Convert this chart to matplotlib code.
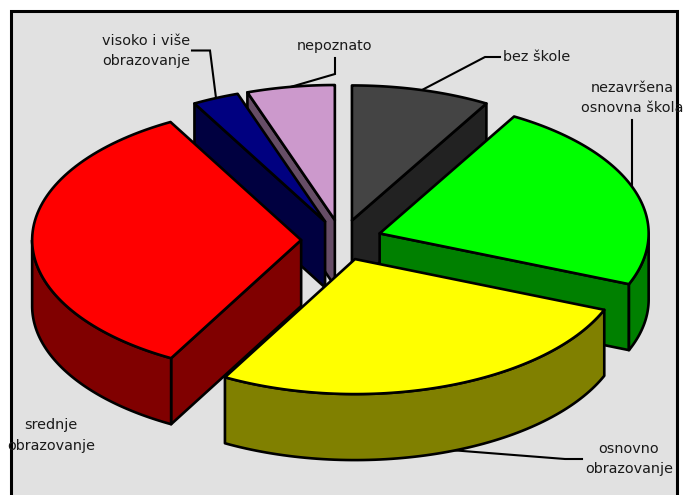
import numpy as np
import matplotlib
matplotlib.use("Agg")
import matplotlib.pyplot as plt
from matplotlib.patches import Polygon, Rectangle

labels = ["bez škole", "nezavršena\nosnovna škola", "osnovno\nobrazovanje",
          "srednje\nobrazovanje", "visoko i više\nobrazovanje", "nepoznato"]
values = [8.33, 22.8, 26.9, 33.9, 2.8, 5.27]
top_colors = ["#444444", "#00ff00", "#ffff00", "#ff0000", "#000080", "#cc99cc"]
side_colors = ["#222222", "#008000", "#808000", "#800000", "#000040", "#664d66"]

# pie geometry in pixels of the 684x495 picture
cx, cy = 341.5, 240
rx, ry = 269, 135
depth = 66
explode = 0.15
lw = 1.9


def point(angle, r=1.0):
    # angle in degrees, clockwise from 12 o'clock
    a = np.radians(angle)
    return np.array([r * rx * np.sin(a), -r * ry * np.cos(a)])


def arc(a0, a1):
    angs = np.linspace(a0, a1, 80)
    return np.array([point(a) for a in angs])


fig = plt.figure(figsize=(6.84, 4.95), dpi=100)
ax = fig.add_axes([0, 0, 1, 1])
ax.set_xlim(0, 684)
ax.set_ylim(495, 0)
ax.axis("off")

ax.add_patch(Rectangle((11, 11), 666, 500, fc="#e1e1e1", ec="black", lw=2.2, zorder=0))

# leader lines
leaders = [
    ([422, 485, 500], [90, 57, 57]),
    ([632, 632], [120, 190]),
    ([450, 565, 582], [450, 459, 459]),
    ([216, 210, 192], [98, 50.5, 50.5]),
    ([287, 335, 335], [88, 74, 58]),
]
for lx, ly in leaders:
    ax.plot(lx, ly, color="black", lw=1.5, zorder=1, solid_joinstyle="miter")

edges = np.cumsum([0] + values) / sum(values) * 360
z_order = {0: 2, 5: 3, 4: 4, 1: 5, 3: 6, 2: 7}

for i in range(len(values)):
    a0, a1 = edges[i], edges[i + 1]
    mid = (a0 + a1) / 2
    apex = np.array([cx, cy]) + point(mid, explode)
    down = np.array([0, depth])
    z = z_order[i]
    p0 = apex + point(a0)
    p1 = apex + point(a1)

    # cut faces, only the ones turned to the viewer
    faces = []
    if 180 < a0 < 360:
        faces.append(p0)
    if 0 < a1 < 180:
        faces.append(p1)
    for p in faces:
        face = [apex, p, p + down, apex + down]
        ax.add_patch(Polygon(face, closed=True, fc=side_colors[i], ec="black",
                             lw=lw, joinstyle="round", zorder=z))

    # outer wall on the front half of the rim
    w0, w1 = max(a0, 90), min(a1, 270)
    if w1 > w0:
        rim = apex + arc(w0, w1)
        wall = np.vstack([rim, (rim + down)[::-1]])
        ax.add_patch(Polygon(wall, closed=True, fc=side_colors[i], ec="black",
                             lw=lw, joinstyle="round", zorder=z))

    # top
    top = np.vstack([apex, apex + arc(a0, a1)])
    ax.add_patch(Polygon(top, closed=True, fc=top_colors[i], ec="black",
                         lw=lw, joinstyle="round", zorder=z))

label_pos = [(503, 57, "left"), (632, 98, "center"), (629, 459, "center"),
             (51, 435.5, "center"), (146, 51, "center"), (334, 46, "center")]
for lab, (x, y, ha) in zip(labels, label_pos):
    ax.text(x, y, lab, ha=ha, va="center", fontsize=10.4, color="#1a1a1a",
            linespacing=1.6, zorder=10)

fig.savefig("out.png", dpi=100, facecolor="white")
